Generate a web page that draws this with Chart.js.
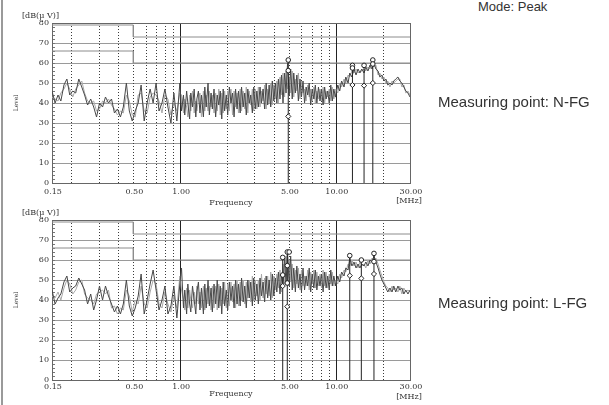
<!DOCTYPE html>
<html>
<head>
<meta charset="utf-8">
<script src="https://cdn.jsdelivr.net/npm/chart.js@4"></script>
<style>
body { margin:0; background:#fff; }
#wrap { position:relative; width:609px; height:405px; overflow:hidden; background:#fff; }
canvas { position:absolute; left:0; }
.note { position:absolute; font-family:"Liberation Sans", Arial, sans-serif; color:#333; white-space:nowrap; line-height:1; }
#edge { position:absolute; left:1px; top:0; width:2px; height:405px; background:#9a9a9a; }
</style>
</head>
<body>
<div id="wrap">
  <div id="edge"></div>
  <canvas id="chartN" width="440" height="208" style="top:0px"></canvas>
  <canvas id="chartL" width="440" height="208" style="top:197px"></canvas>
  <div class="note" style="left:478px;top:0px;font-size:13px">Mode: Peak</div>
  <div class="note" style="left:438px;top:94px;font-size:15px">Measuring point: N-FG</div>
  <div class="note" style="left:438px;top:295px;font-size:15px">Measuring point: L-FG</div>
</div>
<script>
// sweep frequencies [MHz]
var freqs = [
  0.150,0.157,0.164,0.171,0.179,0.187,0.195,0.204,0.213,0.223,
  0.233,0.243,0.254,0.266,0.278,0.290,0.303,0.317,0.331,0.346,
  0.362,0.378,0.395,0.413,0.431,0.451,0.471,0.492,0.514,0.537,
  0.561,0.587,0.613,0.641,0.670,0.700,0.731,0.764,0.798,0.834,
  0.872,0.911,0.952,0.995,
  1.02,1.05,1.07,1.10,1.12,1.15,1.17,1.20,1.23,1.26,
  1.28,1.31,1.34,1.37,1.41,1.44,1.47,1.51,1.54,1.58,
  1.61,1.65,1.69,1.73,1.77,1.81,1.85,1.89,1.93,1.98,
  2.02,2.07,2.12,2.17,2.22,2.27,2.32,2.37,2.43,2.48,
  2.54,2.60,2.66,2.72,2.78,2.84,2.91,2.97,3.04,3.11,
  3.18,3.26,3.33,3.41,3.49,3.57,3.65,3.73,3.82,3.91,
  4.00,4.09,4.18,4.28,4.38,4.48,4.58,4.69,4.79,4.90,
  5.02,5.13,5.25,5.37,5.50,5.62,5.75,5.89,6.02,6.16,
  6.30,6.45,6.60,6.75,6.90,7.06,7.23,7.39,7.56,7.74,
  7.92,8.10,8.29,8.48,8.67,8.87,9.08,9.29,9.50,9.72,
  9.95,
  10.0,10.3,10.6,10.9,11.3,11.6,12.0,12.3,12.7,13.1,
  13.5,13.9,14.3,14.7,15.2,15.6,16.1,16.6,17.1,17.6,
  18.1,18.7,19.2,19.8,20.4,21.0,21.6,22.3,23.0,23.6,
  24.3,25.1,25.8,26.6,27.4,28.2,29.1,30.0
];

// N-FG level [dB(uV)], dark sweep and light sweep
var levelN = [
  46,40,44,41,49,52,44,46,45,52, 48,44,39,42,38,33,40,38,43,40,
  42,35,37,33,38,50,36,31,36,40, 49,31,40,47,40,50,36,40,47,38,
  30,45,31,50,
  36,44,34,46,40,32,45,38,47,33, 42,46,35,44,33,48,38,50,34,45,
  37,47,33,44,39,46,32,47,36,44, 34,48,40,45,33,47,37,46,35,48,
  38,45,34,47,40,44,35,48,37,46, 38,48,40,47,37,50,39,49,38,51,
  41,50,40,52,42,54,40,55,45,60, 44,57,42,55,45,54,41,52,43,51,
  40,48,44,50,39,47,42,49,40,48, 41,47,39,48,42,46,40,49,41,47,
  43,
  44,49,46,51,48,53,50,55,53,57, 54,57,55,57,55,58,56,59,57,60,
  57,56,53,54,51,52,49,50,49,51, 52,53,51,50,48,46,45,43
];
var levelN2 = [
  43,42,41,45,47,50,47,43,47,49, 51,45,41,40,41,36,37,41,40,42,
  39,37,34,36,35,44,41,34,33,44, 45,36,35,43,45,44,41,35,44,42,
  34,40,36,45,
  44,35,42,38,33,44,36,46,35,41, 36,42,45,33,46,36,44,36,46,38,
  44,35,45,36,47,34,45,35,46,37, 46,36,47,34,46,38,45,35,47,36,
  46,37,48,35,46,39,47,36,47,37, 48,38,46,41,49,37,47,40,50,39,
  49,42,51,40,53,44,55,43,56,47, 53,45,56,43,52,46,55,42,51,45,
  47,41,49,43,47,41,48,40,46,42, 47,41,48,40,46,43,47,41,48,42,
  46,
  47,45,50,48,52,50,54,53,56,55, 57,55,56,56,57,56,58,57,60,58,
  59,54,55,52,53,50,51,48,51,50, 51,52,52,48,49,45,46,44
];

// L-FG level [dB(uV)], dark sweep and light sweep
var levelL = [
  45,38,41,43,49,52,44,46,47,51, 48,45,38,43,35,40,47,40,47,42,
  38,34,37,33,38,50,37,32,36,42, 53,33,40,48,55,45,35,40,47,33,
  37,47,31,48,
  56,36,45,33,48,38,34,47,40,33, 44,49,35,46,33,48,36,50,37,46,
  34,48,38,50,36,47,33,49,37,45, 35,49,40,47,36,50,38,48,37,51,
  39,47,36,50,41,49,37,51,40,48, 38,51,42,49,39,52,41,50,40,53,
  42,51,44,54,43,52,46,61,48,64, 47,62,45,56,44,57,46,53,44,56,
  45,52,47,56,44,53,46,55,45,52, 47,53,44,54,46,52,45,55,47,52,
  48,
  47,52,49,54,52,56,55,61,57,59, 56,58,56,58,57,59,57,60,59,62,
  59,56,53,50,48,46,44,46,44,47, 44,47,45,46,43,45,43,45
];
var levelL2 = [
  42,41,44,40,46,50,48,43,45,49, 50,43,41,40,38,43,44,45,43,45,
  36,37,33,36,35,45,42,34,40,38, 47,38,36,44,50,48,38,36,44,38,
  34,42,36,52,
  45,40,35,46,36,45,40,36,44,38, 47,38,44,36,47,35,46,38,47,35,
  47,36,47,35,48,37,46,38,49,36, 48,37,49,39,48,36,50,37,49,40,
  50,38,49,41,50,39,52,40,50,42, 50,40,53,41,51,43,52,42,54,41,
  52,45,53,46,55,44,58,48,62,50, 60,49,58,46,55,48,56,45,55,47,
  52,47,55,45,54,48,55,46,54,47, 53,46,55,47,54,46,53,48,54,47,
  50,
  50,48,53,51,55,54,58,57,60,57, 59,56,59,57,58,56,60,58,61,60,
  61,58,55,52,49,47,46,44,47,45, 46,44,47,43,46,44,45,44
];

var xTicks = [0.15, 0.5, 1, 5, 10, 30];
var gridDotted = [0.2, 0.3, 0.4, 0.5, 0.6, 0.7, 0.8, 0.9, 2, 3, 4, 5, 6, 7, 8, 9, 20];
var gridSolid = [1, 10];

// limit lines (QP / AV)
var limitFreq = [0.15, 0.5, 0.5, 30];
var qpLimit = [79, 79, 73, 73];
var avLimit = [66, 66, 60, 60];

// markers N-FG
var markN_freq = [4.95, 12.8, 15.2, 17.3];
var markN_top = [61.5, 58.8, 58.8, 61.5];
var circN_freq = [4.95, 4.95, 12.8, 12.8, 15.2, 17.3, 17.3];
var circN_level = [61.5, 56.2, 58.8, 57.5, 58.8, 61.5, 59.5];
var diaN_freq = [4.95, 12.8, 15.2, 17.3];
var diaN_level = [33.3, 49, 48.7, 50];

// markers L-FG
var markL_freq = [4.56, 4.88, 12.3, 14.6, 17.6];
var markL_top = [61.3, 64, 62.2, 60, 63.3];
var circL_freq = [4.56, 4.56, 4.88, 5.02, 4.88, 4.88, 12.3, 14.6, 17.6, 17.6];
var circL_level = [61.3, 52.5, 64, 64, 57.2, 48.5, 62.2, 60, 63.3, 59.2];
var diaL_freq = [4.56, 4.88, 12.3, 14.6, 17.6];
var diaL_level = [47, 36.7, 52.2, 50.8, 53];

var serif = 'DejaVu Serif';

function pts(fs, vs) {
  return fs.map(function(f, i) { return {x: f, y: vs[i]}; });
}

// txt: y offsets of the x labels, "Frequency" and "[MHz]"
function makeChart(id, levels, levels2, markFreq, markTop, circFreq, circLevel, diaFreq, diaLevel, txt) {
  var ds = [];
  ds.push({data: pts(diaFreq, diaLevel), showLine: false, pointStyle: 'rectRot', pointRadius: 2.6,
    borderColor: '#222', backgroundColor: '#fff', borderWidth: 1});
  ds.push({data: pts(circFreq, circLevel), showLine: false, pointStyle: 'circle', pointRadius: 2.3,
    borderColor: '#222', backgroundColor: '#fff', borderWidth: 1});
  for (var i = 0; i < markFreq.length; i++) {
    ds.push({data: [{x: markFreq[i], y: 0}, {x: markFreq[i], y: markTop[i]}], borderColor: '#222',
      borderWidth: 1, pointRadius: 0});
  }
  ds.push({data: pts(freqs, levels), borderColor: '#484848', borderWidth: 1, pointRadius: 0, tension: 0});
  ds.push({data: pts(freqs, levels2), borderColor: '#a8a8a8', borderWidth: 1, pointRadius: 0, tension: 0});
  ds.push({data: pts(limitFreq, qpLimit), borderColor: '#8c8c8c', borderWidth: 1, pointRadius: 0});
  ds.push({data: pts(limitFreq, avLimit), borderColor: '#8c8c8c', borderWidth: 1, pointRadius: 0});

  // grid, frame and the axis texts
  var deco = {
    id: 'deco',
    beforeDatasetsDraw: function(chart) {
      var c = chart.ctx, a = chart.chartArea, sx = chart.scales.x, sy = chart.scales.y;
      c.save();
      c.lineWidth = 1;
      c.strokeStyle = '#3a3a3a';
      c.setLineDash([1, 2]);
      gridDotted.forEach(function(f) {
        var px = Math.round(sx.getPixelForValue(f)) + 0.5;
        c.beginPath(); c.moveTo(px, a.top); c.lineTo(px, a.bottom); c.stroke();
      });
      c.setLineDash([]);
      c.strokeStyle = '#222';
      gridSolid.forEach(function(f) {
        var px = Math.round(sx.getPixelForValue(f)) + 0.5;
        c.beginPath(); c.moveTo(px, a.top); c.lineTo(px, a.bottom); c.stroke();
      });
      c.strokeStyle = '#777';
      for (var v = 2; v < 80; v += 2) {
        var py = Math.round(sy.getPixelForValue(v)) + 0.5;
        c.beginPath(); c.moveTo(a.left, py); c.lineTo(a.left + 3, py); c.stroke();
      }
      c.strokeStyle = '#666';
      c.strokeRect(Math.round(a.left) + 0.5, Math.round(a.top) + 0.5, Math.round(a.right - a.left), Math.round(a.bottom - a.top));
      c.restore();
    },
    afterDraw: function(chart) {
      var c = chart.ctx, a = chart.chartArea, sx = chart.scales.x;
      c.save();
      c.fillStyle = '#333';
      c.textBaseline = 'middle';
      c.font = '8px "' + serif + '"';
      c.textAlign = 'center';
      xTicks.forEach(function(v) {
        c.fillText(v.toFixed(2), sx.getPixelForValue(v) + 1, a.bottom + txt[0]);
      });
      c.fillText('Frequency', (a.left + a.right) / 2, txt[1]);
      c.fillText('[MHz]', 409, txt[2]);
      c.textAlign = 'left';
      c.fillText('[dB(\u03bc V)]', 22, 16);
      c.textAlign = 'center';
      c.translate(16, (a.top + a.bottom) / 2);
      c.rotate(-Math.PI / 2);
      c.font = '6px "' + serif + '"';
      c.fillText('Level', 0, 0);
      c.restore();
    }
  };

  return new Chart(document.getElementById(id), {
    type: 'line',
    data: {datasets: ds},
    plugins: [deco],
    options: {
      responsive: false,
      animation: false,
      devicePixelRatio: 1,
      events: [],
      layout: {padding: {top: 23, right: 30, left: 0, bottom: 0}},
      plugins: {legend: {display: false}, tooltip: {enabled: false}},
      scales: {
        x: {
          type: 'logarithmic', min: 0.15, max: 30,
          grid: {display: false}, border: {display: false},
          ticks: {display: false},
          afterFit: function(s) { s.height = 25; }
        },
        y: {
          min: 0, max: 80,
          afterFit: function(s) { s.width = 52; },
          grid: {color: '#9a9a9a', drawTicks: false},
          border: {display: false},
          ticks: {stepSize: 10, padding: 3, color: '#333', font: {family: serif, size: 8}}
        }
      }
    }
  });
}

makeChart('chartN', levelN, levelN2, markN_freq, markN_top, circN_freq, circN_level, diaN_freq, diaN_level, [8.5, 202.5, 200.5]);
makeChart('chartL', levelL, levelL2, markL_freq, markL_top, circL_freq, circL_level, diaL_freq, diaL_level, [6.5, 197.3, 199.7]);
</script>
</body>
</html>
